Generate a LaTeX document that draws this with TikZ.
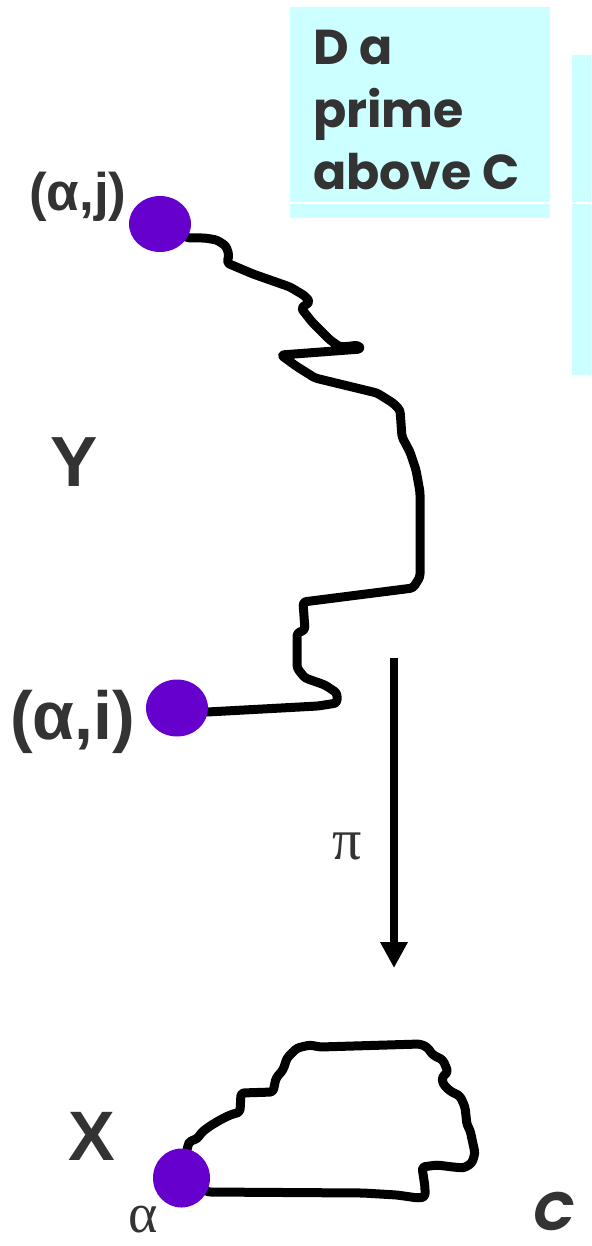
\documentclass[tikz,border=0pt]{standalone}
\usepackage{fontspec}
\setmainfont{Liberation Sans}
\newfontfamily\serifgr{Liberation Serif}
\newfontfamily\comic{Poppins}
\usetikzlibrary{arrows.meta,shapes.geometric}
\pgfdeclarelayer{background}
\pgfsetlayers{background,main}
\definecolor{ink}{HTML}{333333}
\definecolor{dotc}{HTML}{6600CC}
\definecolor{cyanbox}{HTML}{CCFFFF}
\tikzset{
  lbl/.style={inner sep=0pt, text=ink, font=\bfseries},
  dotnode/.style={shape=ellipse, fill=dotc, draw=none, inner sep=0pt},
  curve/.style={line width=9pt, line join=round, line cap=round, rounded corners=3pt},
  arr/.style={line width=8.5pt, -{Triangle[width=26pt,length=26pt]}},
}
\begin{document}
\begin{tikzpicture}[x=1pt,y=-1pt]
\useasboundingbox (0,0) rectangle (591,1246);
% boxes
\fill[cyanbox] (290,7) rectangle (550,218);
\fill[cyanbox] (572,55) rectangle (591,375);
\draw[white, line width=1.5pt] (290,203) -- (550,203);
\draw[white, line width=1.5pt] (572,203) -- (591,203);
\node[anchor=north west, inner sep=0pt, align=left, text=ink,
      font=\comic\bfseries\fontsize{49}{62.5}\selectfont] (boxtxt) at (313,30)
  {D a\\prime\\above C};
% labels
\node[lbl, anchor=base west, font=\bfseries\fontsize{53}{60}\selectfont] (lj) at (29,211) {(α,j)};
\node[lbl, anchor=base west, font=\bfseries\fontsize{71}{80}\selectfont] (ly) at (50,486) {Y};
\node[lbl, anchor=base west, font=\bfseries\fontsize{68}{80}\selectfont] (li) at (10,739) {(α,i)};
\node[lbl, anchor=base west, font=\bfseries\fontsize{70}{80}\selectfont] (lx) at (68,1160) {X};
\node[inner sep=0pt, text=ink, font=\serifgr\fontsize{58}{60}\selectfont] (lpi) at (347,846) {π};
\node[inner sep=0pt, anchor=base, text=ink, font=\serifgr\fontsize{56}{60}\selectfont] (la) at (143,1232) {α};
\node[inner sep=0pt, anchor=base west, text=ink, font=\comic\bfseries\itshape\fontsize{54}{60}\selectfont] (lc) at (533,1230) {C};
% dots
\node[dotnode, minimum width=62pt, minimum height=56pt] (dj) at (160,224) {};
\node[dotnode, minimum width=62pt, minimum height=57pt] (di) at (177,708) {};
\node[dotnode, minimum width=57pt, minimum height=59pt] (da) at (181.5,1178) {};
% arrow
\coordinate (atop) at (394,658);
\coordinate (abot) at (394,968);
\draw[arr] (atop) -- (abot);
\begin{pgfonlayer}{background}
\draw[curve] (dj.center) -- (188,238) -- (205,238) -- (217,240) -- (226,246) -- (229,255) -- (227,263)
  -- (253,274) -- (290,287) -- (305,296) -- (310,302) -- (301,308) -- (312,322) -- (330,340)
  -- (340,347) -- (352,346) -- (358,345) -- (361,349) -- (281,355) -- (296,366) -- (315,378)
  -- (377,393) -- (393,403) -- (400,410) -- (402,437) -- (410,452) -- (416,470) -- (420,492)
  -- (420,577) -- (413,588) -- (303,602) -- (305,630) -- (297,633) -- (297,668) -- (305,678)
  -- (325,685) -- (337,693) -- (337,703) -- (318,706) -- (207,712) -- (di.center);
\draw[curve] (da.center) -- (188,1145) -- (190,1141) -- (197,1139) -- (202,1132) -- (210,1126)
  -- (220,1120) -- (230,1115) -- (240,1112) -- (241,1093) -- (273,1092) -- (276,1078)
  -- (283,1070) -- (287,1058) -- (297,1048) -- (310,1045) -- (320,1047) -- (420,1044)
  -- (427,1047) -- (433,1055) -- (443,1060) -- (448,1072) -- (442,1077) -- (443,1084)
  -- (450,1091) -- (460,1096) -- (465,1107) -- (467,1125) -- (470,1130) -- (475,1153)
  -- (472,1163) -- (464,1168) -- (453,1167) -- (437,1165) -- (422,1167) -- (425,1187)
  -- (425,1197) -- (418,1198) -- (397,1195) -- (363,1193) -- (208,1192) -- (da.center);
\end{pgfonlayer}
\end{tikzpicture}
\end{document}
